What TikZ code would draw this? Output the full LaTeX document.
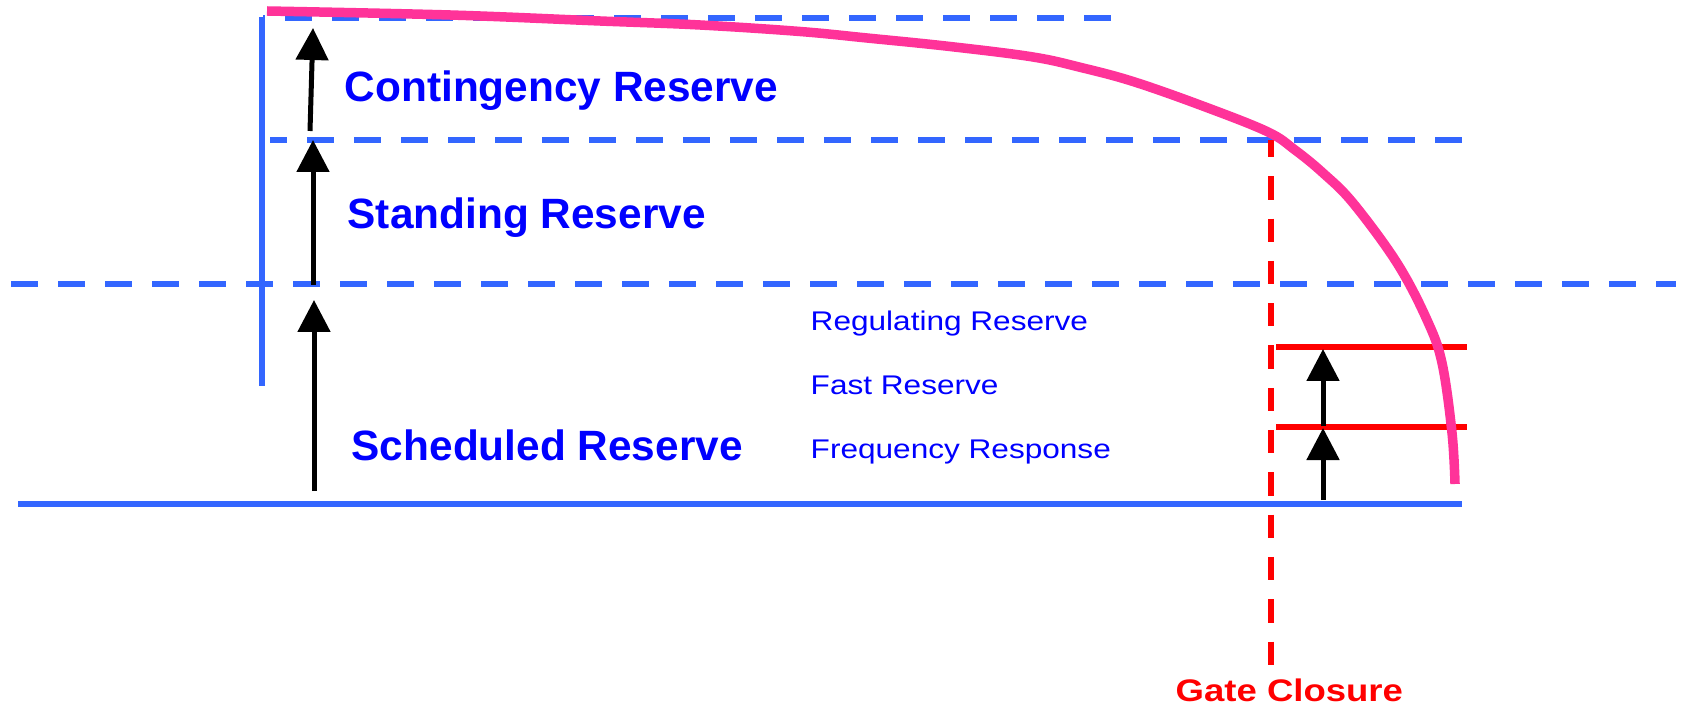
\documentclass[tikz,border=0pt]{standalone}
\usepackage{fontspec}
\setmainfont{Liberation Sans}
\newfontfamily\widefont[FakeStretch=1.17]{Liberation Sans}
\usetikzlibrary{arrows.meta}
\definecolor{lineblue}{HTML}{3366FF}
\definecolor{textblue}{HTML}{0000FF}
\definecolor{curvepink}{HTML}{FF3399}

\begin{document}
\begin{tikzpicture}[x=0.1mm, y=-0.1mm,
    tier/.style={draw=lineblue, line width=0.62mm, dash pattern=on 2.7mm off 2mm},
    ground/.style={draw=lineblue, line width=0.6mm},
    redline/.style={draw=red, line width=0.62mm},
    gate/.style={draw=red, line width=0.58mm, dash pattern=on 2.33mm off 1.9mm, dash phase=0.6mm},
    rise/.style={draw=black, line width=0.5mm, -{Triangle[length=3.2mm, width=3.2mm]}},
    bigtxt/.style={text=textblue, font=\fontsize{12.06pt}{14pt}\selectfont\bfseries, inner sep=0pt, anchor=base west},
    smalltxt/.style={text=textblue, font=\widefont\fontsize{7.68pt}{9pt}\selectfont, inner sep=0pt, anchor=base west}]

    \useasboundingbox (0,0) rectangle (1685,710);

    % reserve levels
    \draw[tier, dash phase=2.5mm] (263,18) -- (1113,18);
    \draw[tier, dash phase=1mm] (270,140) -- (1463,140);
    \draw[tier] (11,284) -- (1676,284);
    \draw[ground] (18,504) -- (1462,504);
    \draw[ground] (262,17) -- (262,386);

    % gate closure and short term reserves
    \draw[gate] (1271,140) -- (1271,667);
    \draw[redline] (1276,347) -- (1467,347);
    \draw[redline] (1276,427) -- (1467,427);

    \draw[curvepink, line width=0.95mm] plot[smooth, tension=0.6] coordinates {
        (267,11) (450,15) (600,21) (700,25) (800,31.5) (867,38) (950,46.5)
        (1033,57) (1083,68) (1133,81.5) (1200,105) (1267,131.5) (1295,150)
        (1323,173) (1353,203) (1397,263) (1427,320) (1442,363) (1452,433) (1455,484)};

    \coordinate (sched-b) at (314,491);
    \coordinate (sched-t) at (314,300);
    \coordinate (stand-b) at (313,285);
    \coordinate (stand-t) at (313,140);
    \coordinate (cont-b) at (310,131);
    \coordinate (cont-t) at (313,28);
    \coordinate (freq-b) at (1323,500);
    \coordinate (freq-t) at (1323,428);
    \coordinate (fast-b) at (1323,426);
    \coordinate (fast-t) at (1323,349);

    \draw[rise] (sched-b) -- (sched-t);
    \draw[rise] (stand-b) -- (stand-t);
    \draw[rise] (cont-b) -- (cont-t);
    \draw[rise] (freq-b) -- (freq-t);
    \draw[rise] (fast-b) -- (fast-t);

    \node[bigtxt] (contingency) at (344,102) {Contingency Reserve};
    \node[bigtxt] (standing) at (347,228.5) {Standing Reserve};
    \node[bigtxt] (scheduled) at (351,460.5) {Scheduled Reserve};
    \node[smalltxt] (regulating) at (810,330.7) {Regulating Reserve};
    \node[smalltxt] (fast) at (810,394.3) {Fast Reserve};
    \node[smalltxt] (frequency) at (810,458.3) {Frequency Response};
    \node[smalltxt, text=red, font=\widefont\fontsize{8.88pt}{10pt}\selectfont\bfseries] (gateclosure) at (1175,701.7) {Gate Closure};
    %
\end{tikzpicture}
\end{document}
